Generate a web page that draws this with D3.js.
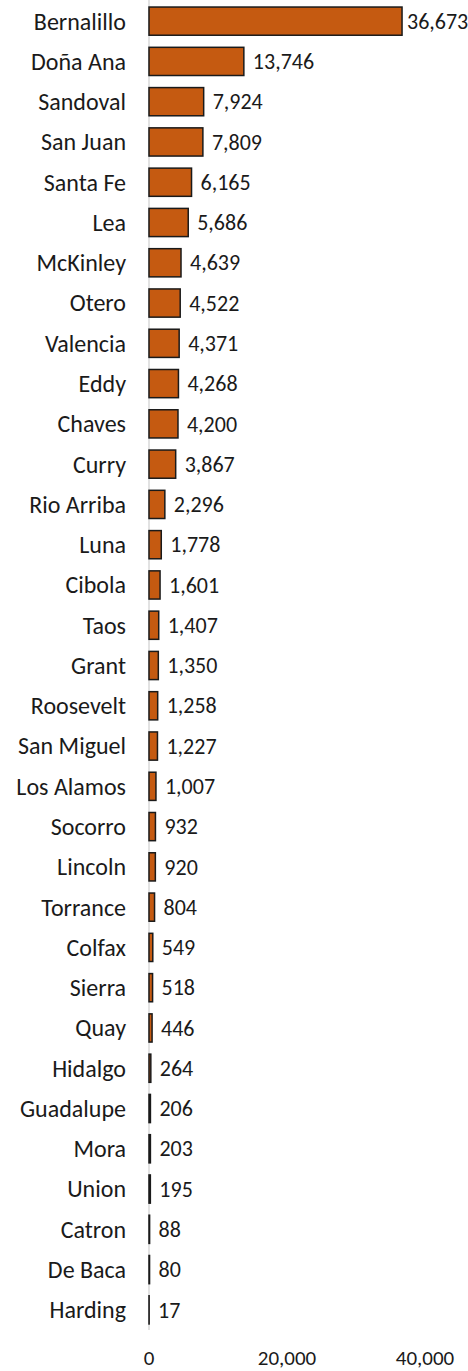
<!DOCTYPE html>
<html>
<head>
<meta charset="utf-8">
<script src="https://cdn.jsdelivr.net/npm/d3@7"></script>
<style>
  body { margin: 0; background: #fff; }
  text { font-family: Carlito, "Open Sans", "Liberation Sans", sans-serif; fill: #1a1a1a; }
</style>
</head>
<body>
<script>
// counties, top to bottom
const counties = ["Bernalillo", "Doña Ana", "Sandoval", "San Juan", "Santa Fe", "Lea", "McKinley",
  "Otero", "Valencia", "Eddy", "Chaves", "Curry", "Rio Arriba", "Luna", "Cibola", "Taos", "Grant",
  "Roosevelt", "San Miguel", "Los Alamos", "Socorro", "Lincoln", "Torrance", "Colfax", "Sierra",
  "Quay", "Hidalgo", "Guadalupe", "Mora", "Union", "Catron", "De Baca", "Harding"];
const values = [36673, 13746, 7924, 7809, 6165, 5686, 4639, 4522, 4371, 4268, 4200, 3867, 2296,
  1778, 1601, 1407, 1350, 1258, 1227, 1007, 932, 920, 804, 549, 518, 446, 264, 206, 203, 195,
  88, 80, 17];
const xTicks = [0, 20000, 40000];

const width = 468, height = 1371;
const svg = d3.select("body").append("svg")
    .attr("width", width)
    .attr("height", height);

const x = d3.scaleLinear().domain([0, 40000]).range([149, 425]);
const y = d3.scaleBand().domain(counties).range([1, 1330]).paddingInner(0.3).paddingOuter(0.15);

// vertical axis line
svg.append("line")
    .attr("x1", x(0)).attr("x2", x(0))
    .attr("y1", 0).attr("y2", 1330)
    .attr("stroke", "#d9d9d9")
    .attr("stroke-width", 1.5);

const data = counties.map((c, i) => ({ name: c, value: values[i] }));

// bars
svg.selectAll(".bar")
    .data(data)
    .enter()
    .append("rect")
    .attr("class", "bar")
    .attr("x", x(0))
    .attr("y", d => y(d.name))
    .attr("width", d => x(d.value) - x(0))
    .attr("height", y.bandwidth())
    .attr("fill", "#c55a11")
    .attr("stroke", "#1a1a1a")
    .attr("stroke-width", 1.5);

// value labels
svg.selectAll(".val")
    .data(data)
    .enter()
    .append("text")
    .attr("class", "val")
    .attr("x", (d, i) => x(d.value) + (i === 0 ? 5 : 9))
    .attr("y", d => y(d.name) + y.bandwidth() / 2)
    .attr("dy", "0.35em")
    .attr("font-size", 22)
    .text(d => d3.format(",")(d.value));

// category labels
svg.selectAll(".cat")
    .data(data)
    .enter()
    .append("text")
    .attr("class", "cat")
    .attr("x", 126)
    .attr("y", d => y(d.name) + y.bandwidth() / 2)
    .attr("dy", "0.35em")
    .attr("text-anchor", "end")
    .attr("font-size", 24)
    .text(d => d.name);

// x axis tick labels
svg.selectAll(".tick-label")
    .data(xTicks)
    .enter()
    .append("text")
    .attr("class", "tick-label")
    .attr("x", d => x(d))
    .attr("y", 1358)
    .attr("dy", "0.35em")
    .attr("text-anchor", "middle")
    .attr("font-size", 21)
    .text(d => d3.format(",")(d));
</script>
</body>
</html>
